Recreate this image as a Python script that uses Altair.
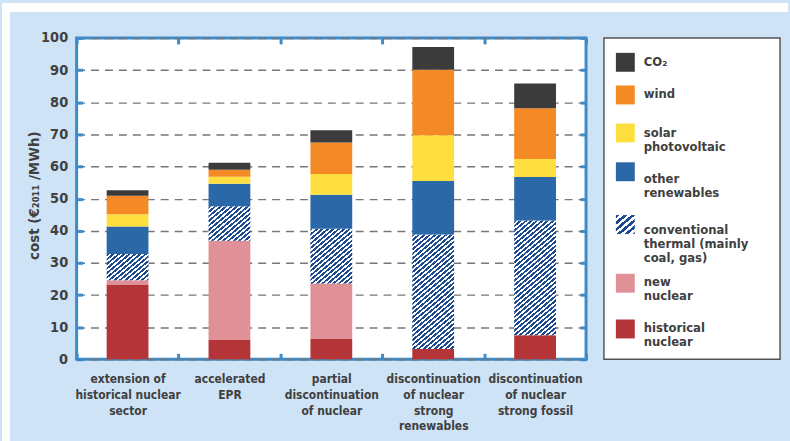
import math
import altair as alt

# ---- data: cost of electricity by scenario (EUR2011 / MWh), stacked bottom to top ----
scenarios = [
    "extension of|historical nuclear|sector",
    "accelerated|EPR",
    "partial|discontinuation|of nuclear",
    "discontinuation|of nuclear|strong|renewables",
    "discontinuation|of nuclear|strong fossil",
]
sources = [
    "historical nuclear",
    "new nuclear",
    "conventional thermal",
    "other renewables",
    "solar photovoltaic",
    "wind",
    "CO2",
]
historical_nuclear = [23.3, 6.0, 6.3, 3.2, 7.5]
new_nuclear = [1.3, 30.9, 17.3, 0.0, 0.0]
conventional_thermal = [8.2, 10.7, 17.0, 35.6, 35.7]
other_renewables = [8.5, 7.0, 10.6, 16.7, 13.5]
solar_pv = [3.8, 2.2, 6.5, 14.2, 5.6]
wind = [5.8, 2.2, 9.8, 20.4, 15.8]
co2 = [1.7, 2.2, 3.8, 7.1, 7.7]

legend_labels = [
    "CO\u2082",
    "wind",
    "solar\nphotovoltaic",
    "other\nrenewables",
    "conventional\nthermal (mainly\ncoal, gas)",
    "new\nnuclear",
    "historical\nnuclear",
]
legend_sources = ["CO2", "wind", "solar photovoltaic", "other renewables",
                  "conventional thermal", "new nuclear", "historical nuclear"]

# ---- styling ----
FONT = "'DejaVu Sans Condensed', 'DejaVu Sans', sans-serif"
TEXT = "#404040"
FRAME = "#3d8bc9"
PANEL = "#cfe3f6"
HATCH_BLUE = "#1c4a90"
COLORS = {
    "historical nuclear": "#b43538",
    "new nuclear": "#e09097",
    "other renewables": "#2b68a8",
    "solar photovoltaic": "#fedf3f",
    "wind": "#f38a26",
    "CO2": "#3b3b3b",
}
PLOT_W, PLOT_H = 512, 323
BAR_W = 42


def hatch(w, h, period=3.5, angle=40, share=0.52):
    """Diagonal stripes as a hard-stop linear gradient sized to a w x h box."""
    a = math.radians(angle)
    sa, ca = math.sin(a), math.cos(a)
    span = w * sa + h * ca
    s = span / (w * w * sa * sa + h * h * ca * ca)
    n = span / period
    stops = []
    k = 0
    while k / n < 1:
        t0 = k / n
        t1 = min((k + share) / n, 1.0)
        t2 = min((k + 1) / n, 1.0)
        stops += [
            {"offset": round(t0, 5), "color": HATCH_BLUE},
            {"offset": round(t1, 5), "color": HATCH_BLUE},
            {"offset": round(t1, 5), "color": "#ffffff"},
            {"offset": round(t2, 5), "color": "#ffffff"},
        ]
        k += 1
    return {"gradient": "linear", "x1": 0, "y1": 0,
            "x2": round(s * w * sa, 6), "y2": round(s * h * ca, 6), "stops": stops}


series = [historical_nuclear, new_nuclear, conventional_thermal,
          other_renewables, solar_pv, wind, co2]

rows = []
for i, sc in enumerate(scenarios):
    for j, src in enumerate(sources):
        v = series[j][i]
        if src == "conventional thermal":
            fill = hatch(BAR_W, v * PLOT_H / 100.0)
        else:
            fill = COLORS[src]
        rows.append({"scenario": sc, "source": src, "order": j, "cost": v, "fill": fill})

x_enc_common = dict(field="scenario", type="nominal", sort=scenarios,
                    scale=alt.Scale(paddingInner=0, paddingOuter=0))
y_scale = alt.Scale(domain=[0, 100], nice=False)
y_values = list(range(0, 101, 10))

bars = alt.Chart(alt.Data(values=rows)).mark_bar(width=BAR_W).encode(
    x=alt.X(**x_enc_common, axis=alt.Axis(
        orient="bottom", offset=-6, tickSize=6, tickWidth=3, tickColor=FRAME,
        tickBand="extent", domain=False, grid=False, title=None,
        labelExpr="split(datum.label, '|')", labelAngle=0, labelBaseline="top",
        labelPadding=14, labelLineHeight=16, labelFont=FONT, labelFontSize=12,
        labelFontWeight="bold", labelColor=TEXT)),
    y=alt.Y("cost:Q", stack="zero", scale=y_scale, axis=alt.Axis(
        orient="left", values=y_values, offset=-6, tickSize=6, tickWidth=3,
        tickColor=FRAME, domain=False, grid=True, gridColor="#777777",
        gridDash=[8, 6], gridWidth=1.4, labelFont=FONT, labelFontSize=14.5,
        labelFontWeight="bold", labelColor=TEXT, labelPadding=9,
        title="cost (\u20ac\u2082\u2080\u2081\u2081 /MWh)", titleFont=FONT,
        titleFontSize=15, titleFontWeight="bold", titleColor=TEXT,
        titleAngle=-90, titleX=-49, titleY=158, titleAlign="center",
        titleBaseline="middle")),
    fill=alt.Fill("fill:N", scale=None),
    order=alt.Order("order:Q"),
)

# inward tick marks on the top and right edges of the frame
edge_ticks = alt.Chart(alt.Data(values=rows)).mark_point(opacity=0).encode(
    x=alt.X(**x_enc_common, axis=alt.Axis(
        orient="top", offset=-6, tickSize=6, tickWidth=3, tickColor=FRAME,
        tickBand="extent", domain=False, grid=False, labels=False, title=None)),
    y=alt.Y("cost:Q", scale=y_scale, axis=alt.Axis(
        orient="right", values=y_values, offset=-6, tickSize=6, tickWidth=3,
        tickColor=FRAME, domain=False, grid=False, labels=False, title=None)),
)

# white page margin above and left of the light-blue panel
margin_top = alt.Chart(alt.Data(values=[{}])).mark_rect(color="white").encode(
    x=alt.value(-75), x2=alt.value(715), y=alt.value(-35), y2=alt.value(-26))
margin_left = alt.Chart(alt.Data(values=[{}])).mark_rect(color="white").encode(
    x=alt.value(-75), x2=alt.value(-67), y=alt.value(-35), y2=alt.value(406))

main = alt.layer(margin_top, margin_left, bars, edge_ticks).resolve_axis(
    x="independent", y="independent"
).properties(
    width=PLOT_W, height=PLOT_H,
    view=alt.ViewBackground(fill="white", stroke=FRAME, strokeWidth=3),
)

# ---- legend panel ----
square_y = [24.5, 57.3, 95.5, 134.5, 187.5, 246.5, 292.5]
label_y = [24.5, 56.8, 95.5, 141.5, 193.5, 245.5, 291.5]
legend_rows = []
for k, (lab, src) in enumerate(zip(legend_labels, legend_sources)):
    fill = hatch(19, 19, period=5.0) if src == "conventional thermal" else COLORS[src]
    legend_rows.append({"label": lab, "fill": fill, "sy": square_y[k], "ty": label_y[k]})

leg_base = alt.Chart(alt.Data(values=legend_rows))
leg_squares = leg_base.mark_square(size=361, opacity=1, strokeWidth=0).encode(
    x=alt.value(21.5),
    y=alt.Y("sy:Q", scale=None, axis=None),
    fill=alt.Fill("fill:N", scale=None),
)
leg_text = leg_base.mark_text(
    align="left", baseline="middle", lineBreak="\n", lineHeight=14,
    font=FONT, fontSize=13, fontWeight="bold", color=TEXT,
).encode(
    x=alt.value(40),
    y=alt.Y("ty:Q", scale=None, axis=None),
    text="label:N",
)
legend = alt.layer(leg_squares, leg_text).properties(
    width=177, height=PLOT_H,
    view=alt.ViewBackground(fill="white", stroke="#555555", strokeWidth=1.5),
)

chart = alt.hconcat(main, legend, spacing=18, bounds="flush").properties(
    background=PANEL, padding=0
)

chart.save("out.html", embed_options={"renderer": "svg", "actions": False})
